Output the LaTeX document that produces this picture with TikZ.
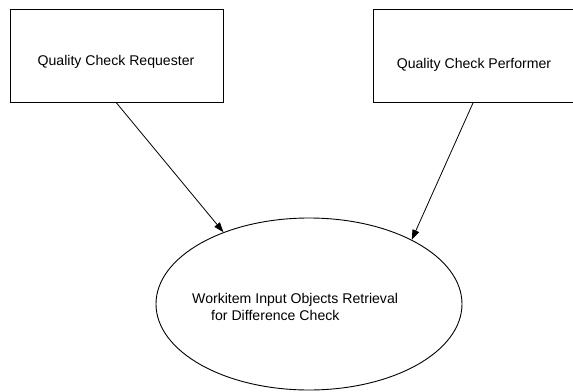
\documentclass[tikz,border=0pt]{standalone}
\usepackage{fontspec}
\setmainfont{Liberation Sans}
\usetikzlibrary{shapes.geometric,arrows.meta}
\begin{document}
\begin{tikzpicture}[x=1pt,y=-1pt,
  box/.style={draw,line width=0.9pt,minimum width=#1,minimum height=93pt,inner sep=0pt},
  txt/.style={font=\fontsize{14.1pt}{17pt}\selectfont,inner sep=0pt},
  arr/.style={line width=0.8pt,-{Triangle[length=10pt,width=7pt]}}]
\useasboundingbox (0,0) rectangle (573,391);
\node[box=213pt] (req) at (116.5,56) {};
\node[txt] (reqt) at (116,62) {Quality Check Requester};
\node[box=207pt] (perf) at (476.5,56) {};
\node[txt] (perft) at (474,65) {Quality Check Performer};
\node[draw,ellipse,line width=0.9pt,minimum width=306pt,minimum height=172pt,inner sep=0pt] (ell) at (309,304) {};
\node[txt,align=left,anchor=north west] (ellt) at (192,293) {Workitem Input Objects Retrieval\\\hspace*{19pt}for Difference Check};
\draw[arr] (req.south) -- (ell.140);
\draw[arr] (perf.south -| 473,0) -- (ell.32);
\end{tikzpicture}
\end{document}
